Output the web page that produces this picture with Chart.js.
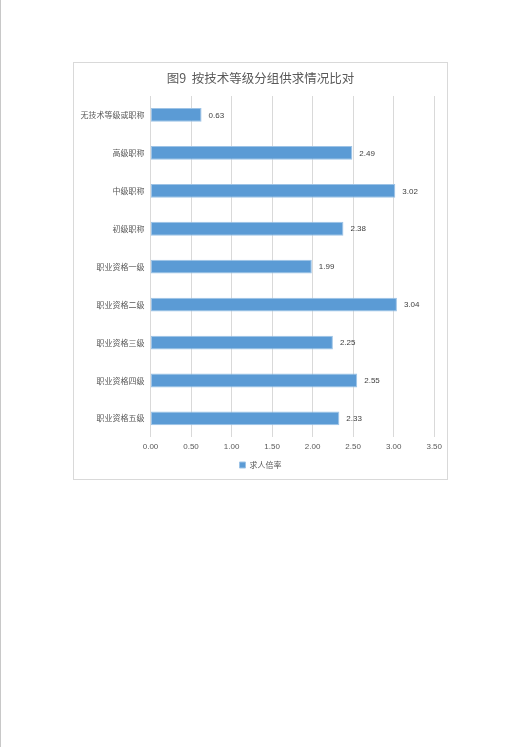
<!DOCTYPE html>
<html><head><meta charset="utf-8">
<script src="https://cdn.jsdelivr.net/npm/chart.js@4/dist/chart.umd.min.js"></script>
<style>
html,body{margin:0;padding:0;background:#fff;width:531px;height:747px;overflow:hidden;}
#edge{position:absolute;left:0;top:0;width:1px;height:747px;background:#c8c8c8;}
#box{position:absolute;left:73px;top:62px;width:373px;height:416px;border:1px solid #d9d9d9;background:#fff;}
#box canvas{display:block;}
</style></head>
<body>
<div id="edge"></div>
<div id="box"><canvas id="c" width="373" height="416"></canvas></div>
<script>
const titleText = '图9  按技术等级分组供求情况比对';
const categories = ['无技术等级或职称','高级职称','中级职称','初级职称','职业资格一级','职业资格二级','职业资格三级','职业资格四级','职业资格五级'];
const seriesName = '求人倍率';
const values = [0.63, 2.49, 3.02, 2.38, 1.99, 3.04, 2.25, 2.55, 2.33];
const xTicks = [0, 0.5, 1, 1.5, 2, 2.5, 3, 3.5];

const labelPlugin = {
  id: 'valueLabels',
  afterLayout(chart) {
    // centre title and legend on the whole chart box
    if (chart.titleBlock) { chart.titleBlock.left = 0; chart.titleBlock.right = chart.width; }
    if (chart.legend) { chart.legend.left = 0; chart.legend.right = chart.width; }
  },
  afterDatasetsDraw(chart) {
    const ctx = chart.ctx;
    const meta = chart.getDatasetMeta(0);
    ctx.save();
    ctx.font = '8px "Liberation Sans", sans-serif';
    ctx.fillStyle = '#404040';
    ctx.textBaseline = 'middle';
    ctx.textAlign = 'left';
    meta.data.forEach((bar, i) => {
      ctx.fillText(values[i].toFixed(2), bar.x + 7, bar.y + 0.5);
    });
    ctx.restore();
  }
};

new Chart(document.getElementById('c'), {
  type: 'bar',
  data: {
    labels: categories,
    datasets: [{
      label: seriesName,
      data: values,
      backgroundColor: '#5B9BD5',
      borderColor: '#9DC3E6',
      borderWidth: 1,
      borderSkipped: false,
      categoryPercentage: 0.7,
      barPercentage: 0.52
    }]
  },
  options: {
    indexAxis: 'y',
    responsive: false,
    animation: false,
    devicePixelRatio: 1,
    layout: { padding: { left: 0, right: 11, top: 0, bottom: 0 } },
    scales: {
      x: {
        min: 0, max: 3.5,
        afterBuildTicks(s) { s.ticks = xTicks.map(v => ({ value: v })); },
        ticks: {
          callback: v => Number(v).toFixed(2),
          font: { size: 8, family: '"Liberation Sans", sans-serif' },
          color: '#595959',
          padding: 5
        },
        grid: { color: '#d9d9d9', drawTicks: false, lineWidth: 1 },
        border: { display: false }
      },
      y: {
        afterFit(s) { s.width = 76.5; },
        ticks: {
          font: { size: 8, family: '"Noto Sans CJK SC", sans-serif' },
          color: '#595959',
          padding: 6
        },
        grid: { display: false, drawTicks: false },
        border: { display: false }
      }
    },
    plugins: {
      title: {
        display: true,
        text: titleText,
        font: { size: 12.5, weight: 'normal', family: '"Noto Sans CJK SC", sans-serif' },
        color: '#595959',
        padding: { top: 8, bottom: 10 }
      },
      legend: {
        position: 'bottom',
        labels: {
          boxWidth: 6, boxHeight: 6,
          font: { size: 8, family: '"Noto Sans CJK SC", sans-serif' },
          color: '#595959',
          padding: 4
        }
      },
      tooltip: { enabled: false }
    }
  },
  plugins: [labelPlugin]
});
</script>
</body></html>
